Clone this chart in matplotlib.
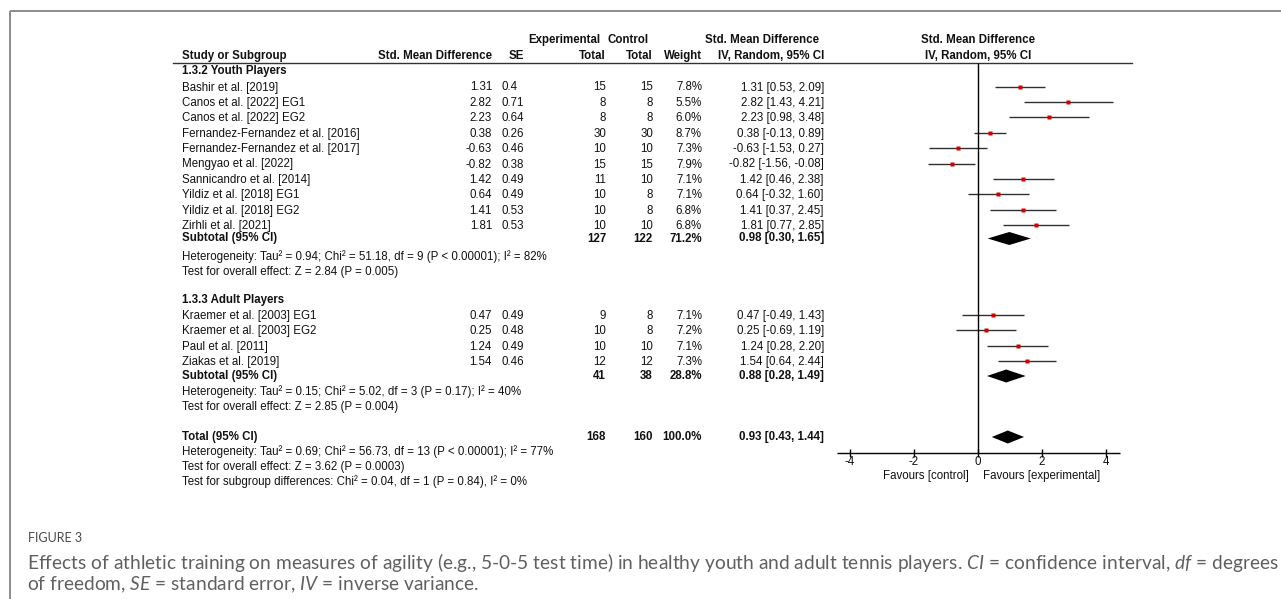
import numpy as np
import matplotlib
matplotlib.use("Agg")
import matplotlib.pyplot as plt

plt.rcParams['font.family'] = ['Liberation Sans', 'DejaVu Sans']
plt.rcParams['mathtext.fontset'] = 'custom'
plt.rcParams['mathtext.rm'] = 'Lato'
plt.rcParams['mathtext.it'] = 'Lato:italic'

# ---- data ----
youth_names = ["Bashir et al. [2019]", "Canos et al. [2022] EG1", "Canos et al. [2022] EG2",
               "Fernandez-Fernandez et al. [2016]", "Fernandez-Fernandez et al. [2017]",
               "Mengyao et al. [2022]", "Sannicandro et al. [2014]", "Yildiz et al. [2018] EG1",
               "Yildiz et al. [2018] EG2", "Zirhli et al. [2021]"]
youth_smd = [1.31, 2.82, 2.23, 0.38, -0.63, -0.82, 1.42, 0.64, 1.41, 1.81]
youth_se = [0.4, 0.71, 0.64, 0.26, 0.46, 0.38, 0.49, 0.49, 0.53, 0.53]
youth_exp = [15, 8, 8, 30, 10, 15, 11, 10, 10, 10]
youth_ctl = [15, 8, 8, 30, 10, 15, 10, 8, 8, 10]
youth_wt = [7.8, 5.5, 6.0, 8.7, 7.3, 7.9, 7.1, 7.1, 6.8, 6.8]
youth_lo = [0.53, 1.43, 0.98, -0.13, -1.53, -1.56, 0.46, -0.32, 0.37, 0.77]
youth_hi = [2.09, 4.21, 3.48, 0.89, 0.27, -0.08, 2.38, 1.60, 2.45, 2.85]
youth_sub = (127, 122, 71.2, 0.98, 0.30, 1.65)
youth_het = "Heterogeneity: Tau\u00b2 = 0.94; Chi\u00b2 = 51.18, df = 9 (P < 0.00001); I\u00b2 = 82%"
youth_test = "Test for overall effect: Z = 2.84 (P = 0.005)"

adult_names = ["Kraemer et al. [2003] EG1", "Kraemer et al. [2003] EG2",
               "Paul et al. [2011]", "Ziakas et al. [2019]"]
adult_smd = [0.47, 0.25, 1.24, 1.54]
adult_se = [0.49, 0.48, 0.49, 0.46]
adult_exp = [9, 10, 10, 12]
adult_ctl = [8, 8, 10, 12]
adult_wt = [7.1, 7.2, 7.1, 7.3]
adult_lo = [-0.49, -0.69, 0.28, 0.64]
adult_hi = [1.43, 1.19, 2.20, 2.44]
adult_sub = (41, 38, 28.8, 0.88, 0.28, 1.49)
adult_het = "Heterogeneity: Tau\u00b2 = 0.15; Chi\u00b2 = 5.02, df = 3 (P = 0.17); I\u00b2 = 40%"
adult_test = "Test for overall effect: Z = 2.85 (P = 0.004)"

total = (168, 160, 100.0, 0.93, 0.43, 1.44)
total_lines = ["Heterogeneity: Tau\u00b2 = 0.69; Chi\u00b2 = 56.73, df = 13 (P < 0.00001); I\u00b2 = 77%",
               "Test for overall effect: Z = 3.62 (P = 0.0003)",
               "Test for subgroup differences: Chi\u00b2 = 0.04, df = 1 (P = 0.84), I\u00b2 = 0%"]
xticks = [-4, -2, 0, 2, 4]

W, H = 1281, 599
fig = plt.figure(figsize=(W / 100, H / 100), dpi=100)
ax = fig.add_axes([0, 0, 1, 1])
ax.set_xlim(0, W)
ax.set_ylim(H, 0)
ax.axis('off')

# forest panel: 0 at x=978 px, 32 px per unit
fax = fig.add_axes([834 / W, 0, 288 / W, 1])
fax.set_xlim(-4.5, 4.5)
fax.set_ylim(H, 0)
fax.axis('off')
fax.patch.set_visible(False)

fs = 8.3
tc = '#111111'
X_NAME, X_SMD, X_SE, X_EXP, X_CTL, X_WT, X_CI = 182, 492, 501, 606, 653, 702, 824

def txt(x, y, s, ha='left', bold=False, **kw):
    ax.text(x, y, s, ha=ha, va='center', fontsize=fs, color=tc,
            fontweight='bold' if bold else 'normal', **kw)

# frame
ax.plot([9.5, W], [10.5, 10.5], color='#8c8c8c', lw=1.4, solid_capstyle='butt')
ax.plot([9.5, 9.5], [10.5, H], color='#8c8c8c', lw=1.4, solid_capstyle='butt')

# headers
txt(528, 40, "Experimental", bold=True)
txt(649, 40, "Control", ha='right', bold=True)
txt(819, 40, "Std. Mean Difference", ha='right', bold=True)
txt(X_NAME, 56, "Study or Subgroup", bold=True)
txt(X_SMD, 56, "Std. Mean Difference", ha='right', bold=True)
txt(524, 56, "SE", ha='right', bold=True)
txt(X_EXP, 56, "Total", ha='right', bold=True)
txt(X_CTL, 56, "Total", ha='right', bold=True)
txt(X_WT, 56, "Weight", ha='right', bold=True)
txt(X_CI, 56, "IV, Random, 95% CI", ha='right', bold=True)
fax.text(0, 40, "Std. Mean Difference", ha='center', va='center', fontsize=fs,
         color=tc, fontweight='bold')
fax.text(0, 56, "IV, Random, 95% CI", ha='center', va='center', fontsize=fs,
         color=tc, fontweight='bold')
ax.plot([173, 1132], [62.5, 62.5], color='#333333', lw=1.0)


def ci_str(m, lo, hi):
    return f"{m:.2f} [{lo:.2f}, {hi:.2f}]"


def summary_row(label, y, s):
    n1, n2, w, m, lo, hi = s
    txt(X_NAME, y, label, bold=True)
    txt(X_EXP, y, str(n1), ha='right', bold=True)
    txt(X_CTL, y, str(n2), ha='right', bold=True)
    txt(X_WT, y, f"{w:.1f}%", ha='right', bold=True)
    txt(X_CI, y, ci_str(m, lo, hi), ha='right', bold=True)
    fax.fill([lo, m, hi, m], [y, y - 6.5, y, y + 6.5], color='black', lw=0, clip_on=False)


def group(title, y_title, y0, step, names, smd, se, ne, nc, wt, lo, hi, sub, y_sub):
    txt(X_NAME, y_title, title, bold=True)
    ys = y0 + step * np.arange(len(names))
    for i, y in enumerate(ys):
        txt(X_NAME, y, names[i])
        txt(X_SMD, y, f"{smd[i]:.2f}", ha='right')
        txt(X_SE, y, f"{se[i]:g}")
        txt(X_EXP, y, str(ne[i]), ha='right')
        txt(X_CTL, y, str(nc[i]), ha='right')
        txt(X_WT, y, f"{wt[i]:.1f}%", ha='right')
        txt(X_CI, y, ci_str(smd[i], lo[i], hi[i]), ha='right')
    fax.hlines(ys - 1, lo, hi, color='#303030', lw=1.0, clip_on=False)
    fax.plot(smd, ys - 1, 's', color='#d40000', ms=2.6, mec='none', clip_on=False)
    summary_row("Subtotal (95% CI)", y_sub, sub)


group("1.3.2 Youth Players", 71, 87.5, 15.4, youth_names, youth_smd, youth_se, youth_exp,
      youth_ctl, youth_wt, youth_lo, youth_hi, youth_sub, 238.5)
txt(X_NAME, 257, youth_het)
txt(X_NAME, 272, youth_test)

group("1.3.3 Adult Players", 300, 316, 15.3, adult_names, adult_smd, adult_se, adult_exp,
      adult_ctl, adult_wt, adult_lo, adult_hi, adult_sub, 376)
txt(X_NAME, 392, adult_het)
txt(X_NAME, 407, adult_test)

summary_row("Total (95% CI)", 437, total)
for i, s in enumerate(total_lines):
    txt(X_NAME, 452 + 15 * i, s)

# forest axis
fax.vlines(0, 62.5, 453, color='black', lw=1.0)
fax.hlines(453, -4.4, 4.45, color='black', lw=1.0)
fax.vlines(xticks, 449, 457, color='black', lw=1.0)
for t in xticks:
    fax.text(t, 462, f"{t}", ha='center', va='center', fontsize=fs, color=tc)
fax.text(-0.3, 476, "Favours [control]", ha='right', va='center', fontsize=fs, color=tc)
fax.text(0.15, 476, "Favours [experimental]", ha='left', va='center', fontsize=fs, color=tc)

# caption
cap = '#606060'
ax.text(28, 538, "FIGURE 3", ha='left', va='center', fontsize=9, color='#4a4a4a',
        family='Lato')
ax.text(27, 562, "Effects of athletic training on measures of agility (e.g., 5-0-5 test time) in "
        "healthy youth and adult tennis players. $\\mathit{CI}$ = confidence interval, "
        "$\\mathit{df}$ = degrees", ha='left', va='center', fontsize=13.8, color=cap,
        family='Lato')
ax.text(27, 585, "of freedom, $\\mathit{SE}$ = standard error, $\\mathit{IV}$ = inverse variance.",
        ha='left', va='center', fontsize=13.8, color=cap, family='Lato')

fig.savefig("out.png", dpi=100)
